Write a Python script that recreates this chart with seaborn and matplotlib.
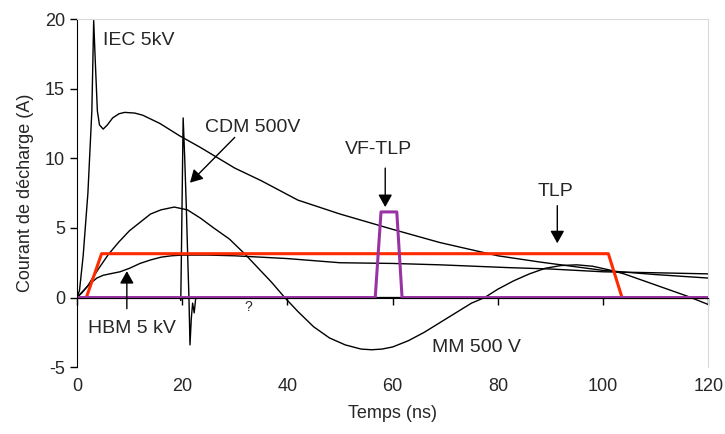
import numpy as np
import pandas as pd
import matplotlib.pyplot as plt
import seaborn as sns

# Courants de décharge : IEC, HBM, MM, CDM, TLP, VF-TLP
iec_t = [0, 0.5, 1.2, 2.1, 2.85, 3.2, 3.5, 3.9, 4.3, 5.0, 5.8, 6.8, 8.0, 9.1, 11, 12.5,
         15.8, 19.6, 23.4, 30, 35, 42, 50, 60, 69, 80, 88, 93, 100, 110, 120]
iec_i = [0, 0.5, 3, 7.5, 13.4, 19.9, 17, 13.4, 12.4, 12.1, 12.4, 12.9, 13.2, 13.3, 13.25, 13.1,
         12.5, 11.6, 10.8, 9.3, 8.4, 7.0, 6.0, 4.9, 3.95, 3.0, 2.55, 2.3, 1.95, 1.65, 1.4]

hbm_t = [0, 1, 2, 3, 3.8, 5, 6.5, 8.2, 10, 12, 14, 16, 18, 20, 25, 30, 40, 50, 60, 69, 82, 90,
         100, 110, 120]
hbm_i = [0, 0.35, 0.8, 1.15, 1.4, 1.6, 1.72, 1.85, 2.1, 2.45, 2.7, 2.9, 3.0, 3.05, 3.05, 3.0,
         2.8, 2.5, 2.45, 2.35, 2.15, 2.05, 1.85, 1.78, 1.7]

mm_t = [0, 2, 4, 6, 8, 10, 12, 14, 16, 18.5, 21, 23.5, 26, 29, 32, 35, 37, 39.5, 42, 45, 48, 51,
        54, 56, 58, 60, 63, 66, 69, 72, 75, 77.5, 80, 83, 86, 89, 92, 95, 98, 101, 104, 107,
        110, 113, 116, 118, 120]
mm_i = [0, 0.8, 2.0, 3.1, 4.0, 4.8, 5.4, 6.0, 6.3, 6.5, 6.3, 5.7, 5.0, 4.2, 3.1, 1.9, 1.1, 0,
        -1.0, -2.1, -2.9, -3.4, -3.7, -3.75, -3.7, -3.55, -3.1, -2.5, -1.8, -1.1, -0.4, 0, 0.6,
        1.2, 1.7, 2.1, 2.3, 2.35, 2.25, 2.0, 1.7, 1.3, 0.9, 0.5, 0.1, -0.2, -0.5]

cdm_t = [0, 19.6, 19.75, 19.9, 20.2, 20.5, 20.8, 21.1, 21.3, 21.5, 21.75, 22.0, 22.3, 22.6, 120]
cdm_i = [0, 0, -0.2, 4, 12.9, 10, 6.5, 2.5, 0, -3.4, -1.5, -0.4, -1.1, 0, 0]

tlp_t = [0.5, 1.8, 4.7, 101, 103.6, 120]
tlp_i = [0, 0, 3.15, 3.15, 0, 0]

vf_t = [0, 56.7, 57.8, 60.8, 61.8, 120]
vf_i = [0, 0, 6.15, 6.15, 0, 0]

sns.set_style('white')
plt.rcParams['font.family'] = ['Liberation Sans', 'DejaVu Sans']
plt.rcParams['axes.unicode_minus'] = False

fig, ax = plt.subplots(figsize=(7.25, 4.34), dpi=100)
fig.subplots_adjust(left=0.106, right=0.977, top=0.956, bottom=0.154)

for t, i in [(iec_t, iec_i), (hbm_t, hbm_i), (mm_t, mm_i), (cdm_t, cdm_i)]:
    sns.lineplot(x=t, y=i, ax=ax, color='black', lw=1.0, sort=False, estimator=None)
sns.lineplot(x=tlp_t, y=tlp_i, ax=ax, color='#FF2A00', lw=2.2, sort=False, estimator=None)
sns.lineplot(x=vf_t, y=vf_i, ax=ax, color='#9933A3', lw=2.2, sort=False, estimator=None)

ax.set_xlim(0, 120)
ax.set_ylim(-5, 20)
ax.set_yticks(range(-5, 21, 5))
ax.set_xticks(range(0, 121, 20))

ax.spines['bottom'].set_position(('data', 0))
ax.spines['bottom'].set_color('black')
ax.spines['left'].set_color('black')
for s in ['top', 'right']:
    ax.spines[s].set_color('#D9D9D9')
    ax.spines[s].set_linewidth(0.8)
ax.tick_params(axis='both', direction='out', length=5, width=1, color='black',
               labelsize=13, left=True, bottom=True)
ax.tick_params(axis='x', labelbottom=False)

# étiquettes de l'axe x en bas du graphe
sec = ax.secondary_xaxis('bottom')
sec.set_xticks(range(0, 121, 20))
sec.tick_params(length=0, labelsize=13, pad=8)
sec.spines['bottom'].set_visible(False)
sec.set_xlabel('Temps (ns)', fontsize=13, labelpad=7)
ax.set_ylabel('Courant de décharge (A)', fontsize=13, labelpad=8)

# textes et flèches
arrow = dict(arrowstyle='-|>,head_length=0.5,head_width=0.28', color='black', lw=1,
             mutation_scale=15, shrinkA=0, shrinkB=0)
ax.text(4.9, 18.45, 'IEC 5kV', fontsize=14, va='center', ha='left')
ax.text(24.3, 12.2, 'CDM 500V', fontsize=14, va='center', ha='left')
ax.annotate('', xy=(21.5, 8.25), xytext=(30.0, 11.5), arrowprops=arrow)
ax.text(57.3, 10.6, 'VF-TLP', fontsize=14, va='center', ha='center')
ax.annotate('', xy=(58.6, 6.5), xytext=(58.6, 9.3), arrowprops=arrow)
ax.text(91, 7.6, 'TLP', fontsize=14, va='center', ha='center')
ax.annotate('', xy=(91.3, 3.9), xytext=(91.3, 6.6), arrowprops=arrow)
ax.text(2.1, -2.2, 'HBM 5 kV', fontsize=14, va='center', ha='left')
ax.annotate('', xy=(9.5, 1.9), xytext=(9.5, -0.8), arrowprops=arrow)
ax.text(67.5, -3.6, 'MM 500 V', fontsize=14, va='center', ha='left')
ax.text(32.5, -0.7, '?', fontsize=10, va='center', ha='center')

fig.savefig('out.png', dpi=100)
